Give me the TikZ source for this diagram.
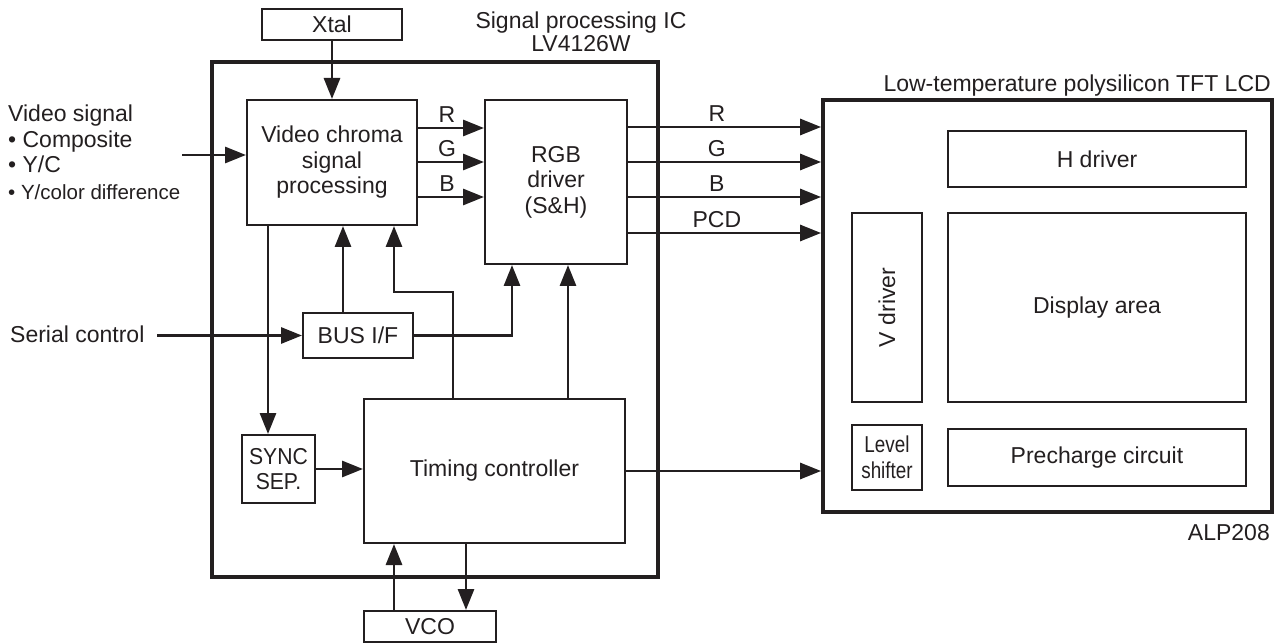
\documentclass[tikz,border=0pt]{standalone}
\usepackage{fontspec}
\setmainfont{Liberation Sans}
\newfontfamily\narrowA[FakeStretch=0.82]{Liberation Sans}
\newfontfamily\narrowB[FakeStretch=0.92]{Liberation Sans}
\usetikzlibrary{arrows.meta}
\definecolor{ink}{HTML}{231F20}
\begin{document}
\begin{tikzpicture}[x=1pt,y=-1pt,
  font=\fontsize{23}{25.5}\selectfont,
  box/.style={draw=ink, line width=2pt, inner sep=0pt, align=center, text=ink},
  bigbox/.style={draw=ink, line width=3.8pt, inner sep=0pt},
  arr/.style={draw=ink, line width=2.9pt, -{Triangle[length=21pt,width=16pt]}},
  lab/.style={text=ink, inner sep=0pt}]
\useasboundingbox[fill=white] (0,0) rectangle (1283,644);

% big frames
\node[bigbox, minimum width=446pt, minimum height=515pt] (ic) at (435,319.5) {};
\node[bigbox, minimum width=449pt, minimum height=412pt] (lcd) at (1047.5,306) {};

% IC blocks
\node[box, minimum width=140pt, minimum height=31pt] (xtal) at (332,24.5) {Xtal};
\node[box, minimum width=170pt, minimum height=125pt] (vcp) at (332,162.5) {Video chroma\\signal\\processing};
\node[box, minimum width=142pt, minimum height=164pt] (rgb) at (556,182) {RGB\\driver\\(S\&H)};
\node[box, minimum width=110pt, minimum height=45pt] (bus) at (358,335.5) {BUS I/F};
\node[box, minimum width=73pt, minimum height=68pt] (sync) at (278.5,469) {\narrowB SYNC\\\narrowB SEP.};
\node[box, minimum width=261pt, minimum height=144pt] (tim) at (494.5,471) {Timing controller};
\node[box, minimum width=132pt, minimum height=31pt] (vco) at (430,626.5) {VCO};

% LCD blocks
\node[box, minimum width=298pt, minimum height=56pt] (hdrv) at (1097,159) {H driver};
\node[box, rotate=90, minimum width=189pt, minimum height=70pt] (vdrv) at (887,307.5) {V driver};
\node[box, minimum width=298pt, minimum height=189pt] (disp) at (1097,307.5) {Display area};
\node[box, minimum width=70pt, minimum height=65pt] (lvl) at (887,457.5) {\narrowA Level\\\narrowA shifter};
\node[box, minimum width=298pt, minimum height=57pt] (pre) at (1097,457.5) {Precharge circuit};

% texts
\node[lab, anchor=base] (t1) at (581,29) {Signal processing IC};
\node[lab, anchor=base] (t2) at (581,52) {LV4126W};
\node[lab, anchor=base east] (t3) at (1271,92) {Low-temperature polysilicon TFT LCD};
\node[lab, anchor=base east] (t4) at (1270,540) {ALP208};
\node[lab, anchor=base west] (v1) at (8,122) {Video signal};
\node[lab, anchor=base west] (v2) at (8,148) {\textbullet\ Composite};
\node[lab, anchor=base west] (v3) at (8,173) {\textbullet\ Y/C};
\node[lab, anchor=base west, font=\fontsize{20.5}{23}\selectfont] (v4) at (8,200) {\textbullet\ Y/color difference};
\node[lab, anchor=base west] (sc) at (10,343) {Serial control};

% inputs
\coordinate (vin) at (182,155);
\coordinate (sin) at (157,335.5);
\draw[arr] (vin) -- (vin -| vcp.west);
\draw[arr] (sin) -- (bus.west);
\draw[arr] (xtal) -- (vcp);

% R G B internal
\draw[arr] (vcp.east |- 0,128) -- node[lab, anchor=base, yshift=5pt, pos=0.44] {R} (rgb.west |- 0,128);
\draw[arr] (vcp.east |- 0,162) -- node[lab, anchor=base, yshift=5pt, pos=0.44] {G} (rgb.west |- 0,162);
\draw[arr] (vcp.east |- 0,197) -- node[lab, anchor=base, yshift=5pt, pos=0.44] {B} (rgb.west |- 0,197);

% outputs to LCD
\draw[arr] (rgb.east |- 0,127) -- node[lab, anchor=base, yshift=5pt, pos=0.46] {R} (lcd.west |- 0,127);
\draw[arr] (rgb.east |- 0,162) -- node[lab, anchor=base, yshift=5pt, pos=0.46] {G} (lcd.west |- 0,162);
\draw[arr] (rgb.east |- 0,197) -- node[lab, anchor=base, yshift=5pt, pos=0.46] {B} (lcd.west |- 0,197);
\draw[arr] (rgb.east |- 0,233) -- node[lab, anchor=base, yshift=5pt, pos=0.46] {PCD} (lcd.west |- 0,233);
\draw[arr] (tim.east) -- (lcd.west |- tim.east);

% internal connections
\draw[arr] (vcp.south -| 268,0) -- (sync.north -| 268,0);
\draw[arr] (bus.north -| 343,0) -- (vcp.south -| 343,0);
\draw[arr] (tim.north -| 453,0) -- (453,292) -- (394,292) -- (vcp.south -| 394,0);
\draw[arr] (bus.east) -- (512,335.5) -- (rgb.south -| 512,0);
\draw[arr] (tim.north -| 568,0) -- (rgb.south -| 568,0);
\draw[arr] (sync.east) -- (tim.west |- sync.east);
\draw[arr] (vco.north -| 394,0) -- (tim.south -| 394,0);
\draw[arr] (tim.south -| 466,0) -- (vco.north -| 466,0);
\end{tikzpicture}
\end{document}
